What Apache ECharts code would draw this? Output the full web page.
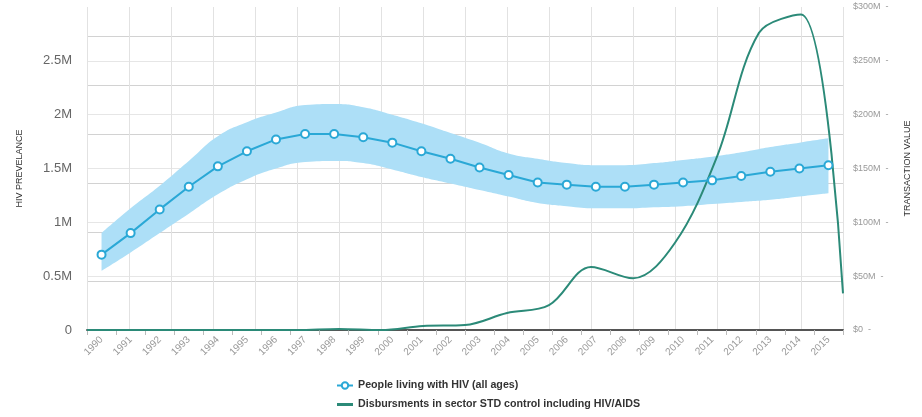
<!DOCTYPE html>
<html lang="en">
<head>
    <meta charset="UTF-8">
    <title>HIV prevalence vs disbursements</title>
    <script type="text/javascript" src="https://cdn.jsdelivr.net/npm/echarts@6/dist/echarts.min.js"></script>
    <style>
        html, body { margin: 0; padding: 0; background: #fff; }
        #container { width: 922px; height: 417px; }
    </style>
</head>
<body>
<div id="container"></div>
<script type="text/javascript">
    // years on the bottom axis
    var years = ['1990','1991','1992','1993','1994','1995','1996','1997','1998','1999','2000','2001','2002',
        '2003','2004','2005','2006','2007','2008','2009','2010','2011','2012','2013','2014','2015'];
    // people living with HIV, millions
    var hivLiving = [0.70,0.90,1.12,1.33,1.52,1.66,1.77,1.82,1.82,1.79,1.74,1.66,1.59,
        1.51,1.44,1.37,1.35,1.33,1.33,1.35,1.37,1.39,1.43,1.47,1.50,1.53];
    // uncertainty band, millions
    var hivLower = [0.55,0.72,0.90,1.08,1.26,1.40,1.50,1.56,1.57,1.55,1.49,1.42,1.36,
        1.30,1.24,1.18,1.15,1.13,1.13,1.14,1.15,1.17,1.19,1.21,1.24,1.27];
    var hivUpper = [0.90,1.13,1.34,1.57,1.80,1.93,2.02,2.09,2.10,2.07,2.00,1.92,1.83,
        1.74,1.64,1.59,1.55,1.53,1.53,1.55,1.58,1.61,1.65,1.70,1.74,1.78];
    // disbursement series sits on its own evenly spaced steps
    var disbSteps = ['s0','s1','s2','s3','s4','s5','s6','s7','s8','s9','s10','s11','s12','s13','s14','s15','s16','s17','s18'];
    // disbursements, $M
    var disbursements = [0,0,0,0,0,0,1,0,3.7,4.6,15.8,23,58.5,48,81,161,276,293,34];

    var bandDiff = [];
    for (var i = 0; i < hivUpper.length; i++) {
        bandDiff.push(+(hivUpper[i] - hivLower[i]).toFixed(3));
    }

    var dom = document.getElementById('container');
    var myChart = echarts.init(dom, null, { renderer: 'canvas' });

    var font = 'Liberation Sans, Arial, sans-serif';

    var option = {
        animation: false,
        textStyle: { fontFamily: font },
        grid: { left: 87, right: 79, top: 7, bottom: 87 },
        legend: {
            orient: 'vertical',
            left: 331,
            top: 375,
            itemGap: 8,
            itemWidth: 16,
            itemHeight: 8,
            data: [
                { name: 'People living with HIV (all ages)' },
                { name: 'Disbursments in sector STD control including HIV/AIDS', icon: 'path://M0 0H16V3H0Z' }
            ],
            textStyle: { fontSize: 10.7, fontWeight: 'bold', color: '#333', fontFamily: font }
        },
        xAxis: [
            {
                type: 'category',
                data: years,
                boundaryGap: true,
                axisLine: { lineStyle: { color: '#555', width: 2 } },
                axisTick: { show: true, length: 5, lineStyle: { color: '#bbb' } },
                axisLabel: { rotate: 45, fontSize: 10, color: '#999', margin: 8 },
                splitLine: { show: false }
            },
            {
                type: 'category',
                data: disbSteps,
                boundaryGap: false,
                position: 'bottom',
                axisLine: { show: false },
                axisTick: { show: false },
                axisLabel: { show: false },
                splitLine: { show: true, lineStyle: { color: '#e2e2e2' } }
            }
        ],
        yAxis: [
            {
                type: 'value',
                min: 0,
                max: 3,
                interval: 0.5,
                name: 'HIV PREVELANCE',
                nameLocation: 'middle',
                nameGap: 63,
                nameTextStyle: { fontSize: 9, color: '#333' },
                axisLine: { show: false },
                axisTick: { show: false },
                axisLabel: {
                    fontSize: 13, color: '#666', margin: 15,
                    formatter: function (v) { return v === 0 ? '0' : (v >= 3 ? '' : v + 'M'); }
                },
                splitLine: { show: true, showMaxLine: false, lineStyle: { color: '#e6e6e6' } }
            },
            {
                type: 'value',
                min: 0,
                max: 300,
                interval: 50,
                position: 'right',
                name: 'TRANSACTION VALUE',
                nameLocation: 'middle',
                nameRotate: 90,
                nameGap: 60,
                nameTextStyle: { fontSize: 9, color: '#333' },
                axisLine: { show: false },
                axisTick: { show: false },
                axisLabel: {
                    fontSize: 9, color: '#999', margin: 10,
                    formatter: function (v) { return '$' + (v === 0 ? '0' : v + 'M') + '  -'; }
                },
                splitLine: { show: false }
            },
            {
                type: 'value',
                min: 0,
                max: 6.6,
                interval: 1,
                axisLine: { show: false },
                axisTick: { show: false },
                axisLabel: { show: false },
                splitLine: { show: true, showMaxLine: false, lineStyle: { color: '#d2d2d2' } }
            }
        ],
        series: [
            {
                name: 'band-low',
                type: 'line',
                data: hivLower,
                stack: 'band',
                smooth: true,
                symbol: 'none',
                lineStyle: { opacity: 0 },
                silent: true,
                z: 1
            },
            {
                name: 'band',
                type: 'line',
                data: bandDiff,
                stack: 'band',
                smooth: true,
                symbol: 'none',
                lineStyle: { opacity: 0 },
                areaStyle: { color: '#addff7', opacity: 1 },
                silent: true,
                z: 1
            },
            {
                name: 'Disbursments in sector STD control including HIV/AIDS',
                type: 'line',
                xAxisIndex: 1,
                yAxisIndex: 1,
                data: disbursements,
                smooth: 0.35,
                symbol: 'none',
                lineStyle: { color: '#2b8a78', width: 2 },
                itemStyle: { color: '#2b8a78' },
                z: 3
            },
            {
                name: 'People living with HIV (all ages)',
                type: 'line',
                data: hivLiving,
                symbol: 'circle',
                symbolSize: 8,
                lineStyle: { color: '#2aa8d6', width: 2 },
                itemStyle: { color: '#fff', borderColor: '#2aa8d6', borderWidth: 2 },
                z: 4
            }
        ]
    };

    if (option && typeof option === 'object') {
        myChart.setOption(option);
    }
    window.addEventListener('resize', myChart.resize);
</script>
</body>
</html>
